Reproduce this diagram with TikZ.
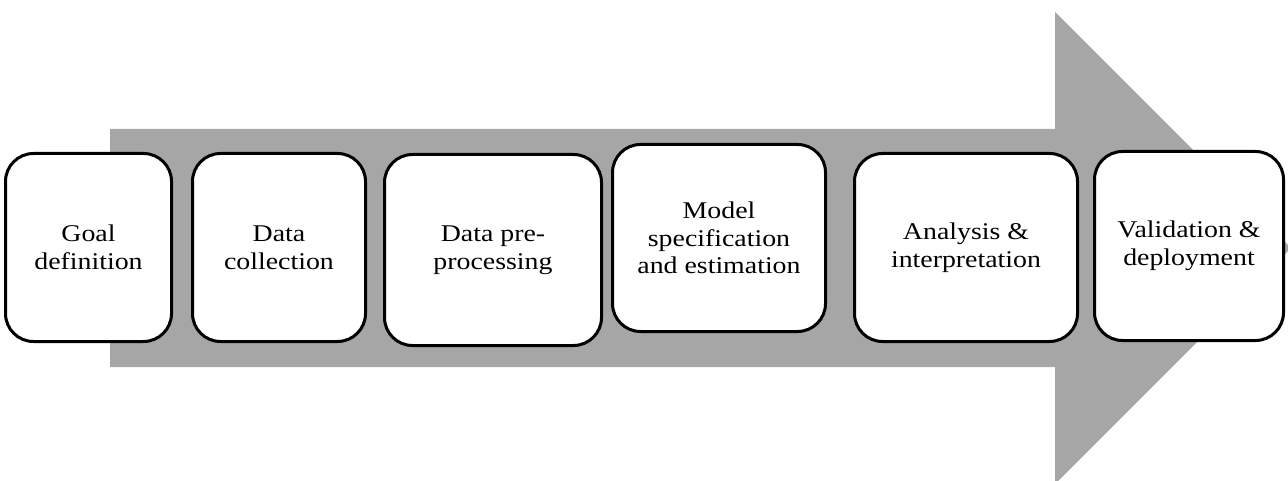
\documentclass[tikz,border=0pt]{standalone}
\usepackage{fontspec}
\setmainfont{Liberation Serif}[FakeStretch=1.16]
\definecolor{arrowgray}{RGB}{166,166,166}
\tikzset{
  stage/.style={draw=black, line width=3pt, fill=white, rounded corners=28pt,
    rectangle, inner sep=0pt, align=center, text=black,
    font=\fontsize{24}{27.7}\selectfont},
}
\begin{document}
\begin{tikzpicture}[x=1pt,y=1pt]
  \useasboundingbox (0,0) rectangle (1288,480);
  \clip (0,0) rectangle (1288,480);
  % broad process arrow behind the stages
  \fill[arrowgray] (110,351) -- (1055,351) -- (1055,468) -- (1291,232)
    -- (1055,-4) -- (1055,113) -- (110,113) -- cycle;
  % stages
  \node[stage, minimum width=166pt, minimum height=188pt] (goal) at (88.5,232.5)
    {Goal\\definition};
  \node[stage, minimum width=173pt, minimum height=188pt] (collect) at (279,232.5)
    {Data\\collection};
  \node[stage, minimum width=217pt, minimum height=191pt] (prep) at (493,230)
    {Data pre-\\processing};
  \node[stage, minimum width=213pt, minimum height=187pt] (model) at (719,242)
    {Model\\specification\\and estimation};
  \node[stage, minimum width=223pt, minimum height=188pt] (analysis) at (966,232.5)
    {Analysis \&\\interpretation};
  \node[stage, minimum width=189pt, minimum height=189pt] (valid) at (1189,234)
    {Validation \&\\deployment};
\end{tikzpicture}
\end{document}
